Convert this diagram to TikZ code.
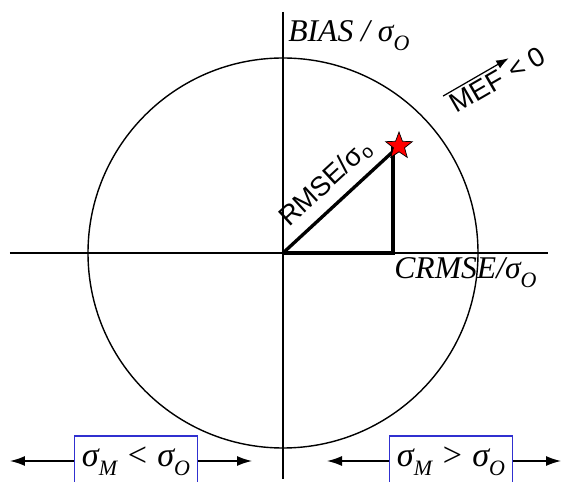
\documentclass[tikz,border=0pt]{standalone}
\usepackage{fontspec}
\newfontfamily\arialfont{Liberation Sans}
\newfontfamily\timesfont{Liberation Serif}
\usetikzlibrary{arrows.meta,positioning,shapes.geometric}
\definecolor{boxblue}{HTML}{3030D0}
\newcommand\lowsub[1]{\raisebox{-0.26em}{\fontsize{12.5}{13}\selectfont #1}}

\begin{document}
\begin{tikzpicture}[
   x=0.02cm, y=0.02cm,
   axis/.style={line width=0.6pt, color=black},
   leg/.style={line width=1.9pt, color=black},
   spread/.style={-{Latex[length=3mm, width=2mm]}, line width=0.8pt},
   seriflbl/.style={font=\fontsize{18}{21}\selectfont\timesfont\itshape, inner sep=0pt},
   sanslbl/.style={font=\fontsize{15.5}{18}\selectfont\arialfont, inner sep=2pt},
   ratiobox/.style={draw=boxblue, line width=0.8pt, font=\fontsize{19.5}{22}\selectfont\timesfont\itshape,
                    minimum width=2.46cm, minimum height=1.0cm, inner sep=0pt},
   starmark/.style={star, star points=5, star point ratio=2.4, fill=red, draw=black,
                    line width=0.4pt, minimum size=0.56cm, inner sep=0pt},
]
  \clip (-283,-229) rectangle (280,253);

  % axes and unit circle
  \coordinate (o)  at (0,0);
  \coordinate (xl) at (-273,0);
  \coordinate (xr) at (265,0);
  \coordinate (yt) at (0,241);
  \coordinate (yb) at (0,-226);
  \draw[axis] (xl) -- (xr);
  \draw[axis] (yt) -- (yb);
  \draw[line width=0.8pt] (o) circle (195);

  \node[seriflbl, anchor=base west] (bias)  at (5,211)   {BIAS / σ\lowsub{O}};
  \node[seriflbl, anchor=base west] (crmse) at (111,-26) {CRMSE/σ\lowsub{O}};

  % error triangle
  \coordinate (tip)    at (116,107);
  \coordinate (corner) at (110,0);
  \draw[leg] (o) -- (corner) -- (corner |- tip);
  \draw[leg] (o) -- (tip)
        node[midway, sloped, above=3pt, sanslbl] (rmse) {RMSE/σ\textsubscript{o}};
  \node[starmark] (star) at (tip) {};

  % efficiency direction
  \node[sanslbl, rotate=30, anchor=base west, inner sep=1pt] (mef) at (172,138) {MEF};
  \node[sanslbl, rotate=30, anchor=base west, inner sep=1pt] (lt) at (mef.base east) {\,< 0};
  \draw[-{Latex[length=2.5mm, width=1.8mm]}, line width=0.7pt, shorten <=-1pt, shorten >=-7pt]
        ([yshift=1pt]mef.north west) -- ([yshift=1pt]mef.north east);

  % spread of model vs observations
  \node[ratiobox] (lower)  at (-147,-208) {σ\lowsub{M} < σ\lowsub{O}};
  \node[ratiobox] (higher) at (168,-208)  {σ\lowsub{M} > σ\lowsub{O}};
  \coordinate (ll) at (-273,-208);
  \coordinate (lr) at (-31,-208);
  \coordinate (hl) at (44,-208);
  \coordinate (hr) at (278,-208);
  \draw[spread] (lower.west)  -- (ll);
  \draw[spread] (lower.east)  -- (lr);
  \draw[spread] (higher.west) -- (hl);
  \draw[spread] (higher.east) -- (hr);
\end{tikzpicture}
\end{document}
